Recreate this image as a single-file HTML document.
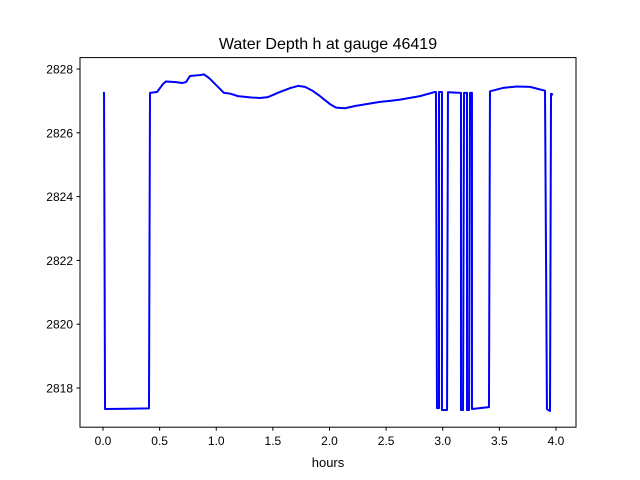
<!DOCTYPE html>
<html><head><meta charset="utf-8"><style>
body{margin:0;background:#fff}
svg{display:block;font-family:"Liberation Sans","DejaVu Sans",sans-serif}
</style></head><body>
<svg id="chart" width="640" height="480">
<rect width="640" height="480" fill="#fff"/>
<g id="plot"></g>
<rect x="80" y="57.6" width="496" height="369.6" fill="none" stroke="#000" stroke-width="1"/>
<g id="xticks"></g><g id="yticks"></g>
<text x="328" y="49" text-anchor="middle" font-size="16">Water Depth h at gauge 46419</text>
<text x="328" y="467" text-anchor="middle" font-size="13">hours</text>
</svg>
<script>
const times=[0,0.009,0.018,0.406,0.415,0.477,0.530,0.556,0.645,0.698,0.733,0.768,0.857,0.892,0.936,1.007,1.068,1.121,1.192,1.298,1.386,1.457,1.563,1.651,1.722,1.784,1.854,1.916,2.004,2.057,2.137,2.225,2.446,2.534,2.623,2.799,2.932,2.940,2.949,2.967,2.967,2.993,2.993,3.038,3.046,3.161,3.161,3.179,3.188,3.214,3.214,3.232,3.241,3.258,3.258,3.408,3.417,3.536,3.656,3.77,3.903,3.920,3.947,3.956,3.974];
const depth=[2827.25,2827.25,2817.34,2817.36,2827.25,2827.28,2827.53,2827.61,2827.59,2827.56,2827.59,2827.78,2827.81,2827.83,2827.72,2827.47,2827.25,2827.23,2827.15,2827.11,2827.09,2827.12,2827.28,2827.40,2827.47,2827.44,2827.31,2827.15,2826.90,2826.79,2826.77,2826.84,2826.97,2827.00,2827.04,2827.15,2827.28,2827.28,2817.37,2817.37,2827.28,2827.28,2817.31,2817.31,2827.27,2827.25,2817.31,2817.31,2827.25,2827.25,2817.31,2817.31,2827.25,2827.25,2817.34,2817.4,2827.30,2827.41,2827.45,2827.44,2827.32,2817.34,2817.28,2827.22,2827.20];
const xTickVals=[0,0.5,1,1.5,2,2.5,3,3.5,4];
const xTickLabels=["0.0","0.5","1.0","1.5","2.0","2.5","3.0","3.5","4.0"];
const yTickVals=[2818,2820,2822,2824,2826,2828];
const yTickLabels=["2818","2820","2822","2824","2826","2828"];
const X=t=>103+t*113.25;
const Y=h=>69+(2828-h)*31.9;
const NS="http://www.w3.org/2000/svg";
const plot=document.getElementById('plot');
const p=document.createElementNS(NS,'path');
p.setAttribute('d',times.map((t,i)=>(i?'L':'M')+X(t).toFixed(2)+','+Y(depth[i]).toFixed(2)).join(''));
p.setAttribute('fill','none');p.setAttribute('stroke','#0000ff');p.setAttribute('stroke-width','2');p.setAttribute('stroke-linejoin','round');


plot.appendChild(p);
const xt=document.getElementById('xticks');
xTickVals.forEach((v,i)=>{
 const l=document.createElementNS(NS,'line');
 l.setAttribute('x1',X(v));l.setAttribute('x2',X(v));l.setAttribute('y1',427.2);l.setAttribute('y2',430.7);l.setAttribute('stroke','#000');
 
 
 xt.appendChild(l);
 const tx=document.createElementNS(NS,'text');
 tx.setAttribute('x',X(v));tx.setAttribute('y',445);tx.setAttribute('text-anchor','middle');tx.setAttribute('font-size','12');
 tx.textContent=xTickLabels[i];
 
 
 xt.appendChild(tx);
});
const yt=document.getElementById('yticks');
yTickVals.forEach((v,i)=>{
 const l=document.createElementNS(NS,'line');
 l.setAttribute('x1',76.5);l.setAttribute('x2',80);l.setAttribute('y1',Y(v));l.setAttribute('y2',Y(v));l.setAttribute('stroke','#000');
 
 
 yt.appendChild(l);
 const tx=document.createElementNS(NS,'text');
 tx.setAttribute('x',73);tx.setAttribute('y',Y(v)+4.5);tx.setAttribute('text-anchor','end');tx.setAttribute('font-size','12');
 tx.textContent=yTickLabels[i];
 
 
 yt.appendChild(tx);
});
</script>
</body></html>
